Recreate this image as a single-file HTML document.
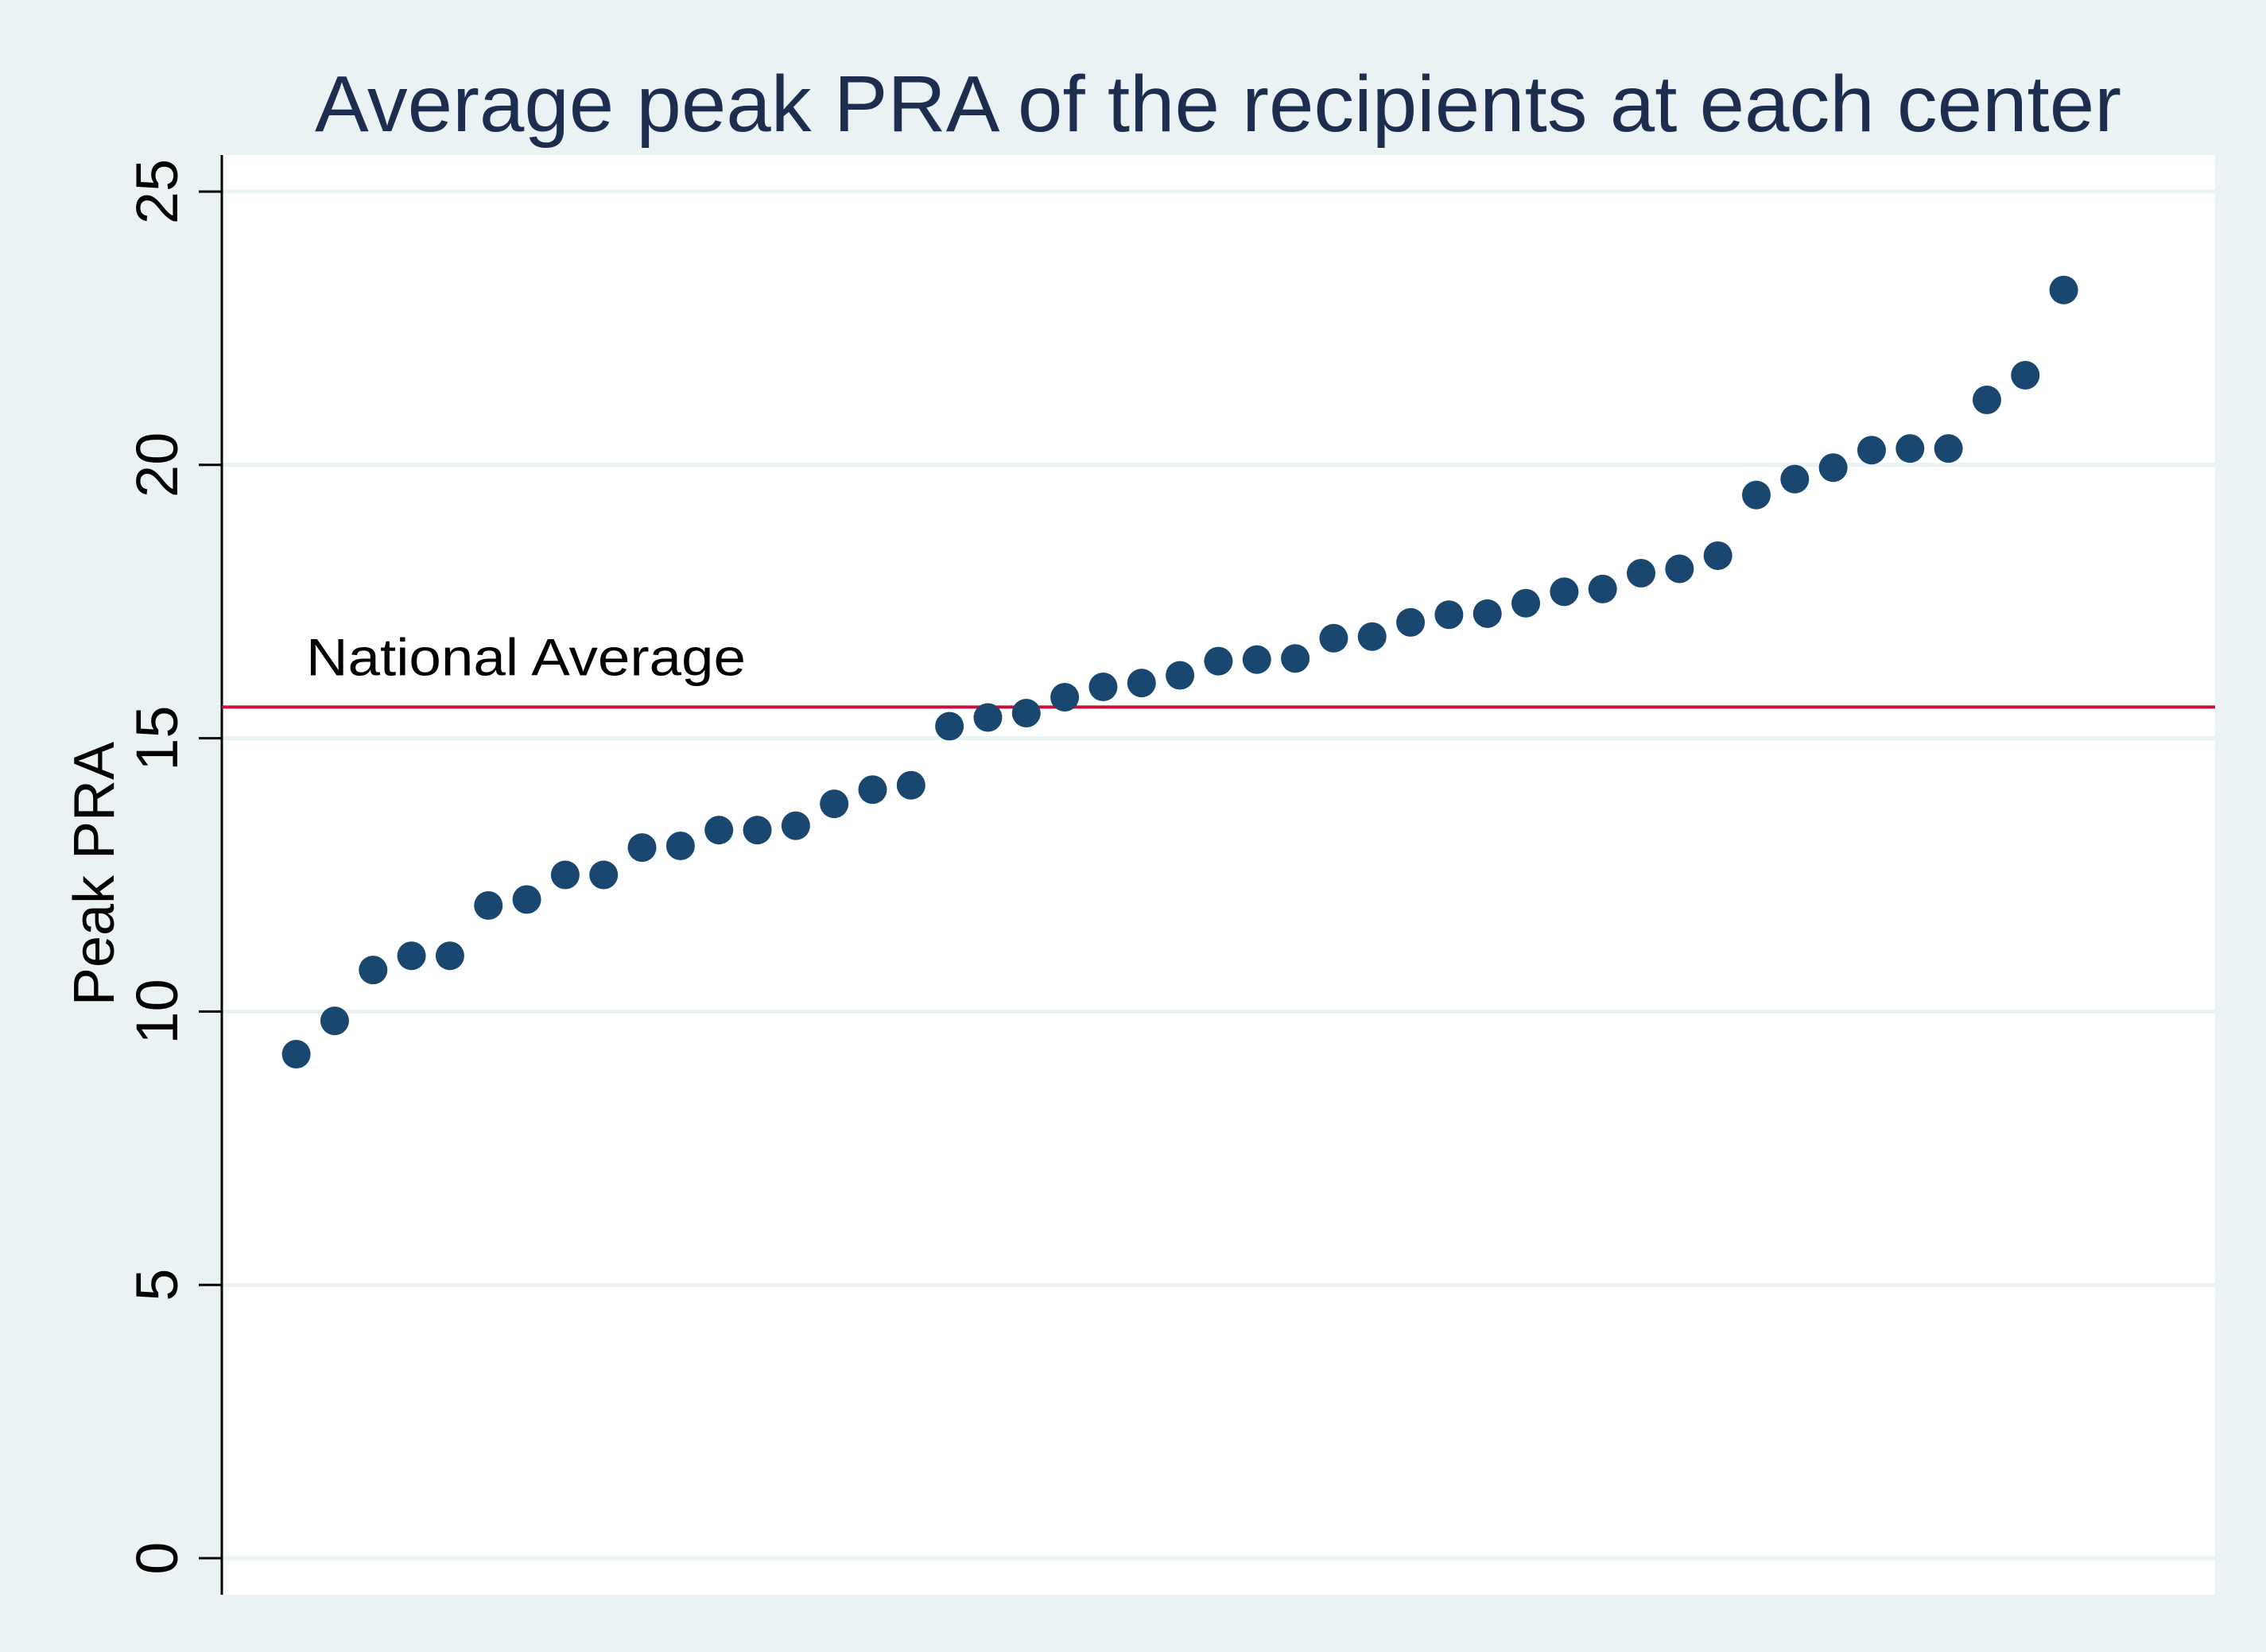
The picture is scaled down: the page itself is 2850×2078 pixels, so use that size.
<!DOCTYPE html>
<html><head><meta charset="utf-8"><style>
html,body{margin:0;padding:0;background:#eaf2f3;}
svg{display:block;font-family:"Liberation Sans",Arial,sans-serif;}
</style></head><body>
<svg id="chart" width="2850" height="2078" viewBox="0 0 2850 2078" xmlns="http://www.w3.org/2000/svg">
<rect x="0" y="0" width="2850" height="2078" fill="#eaf2f3"/>
<rect x="279" y="195" width="2507" height="1811" fill="#ffffff"/>
<text x="396" y="165" font-size="100" fill="#1c2d4f" textLength="2272" lengthAdjust="spacingAndGlyphs">Average peak PRA of the recipients at each center</text>
<g id="grid"></g>
<g id="yticks"></g>
<line x1="279" y1="195" x2="279" y2="2006" stroke="#000" stroke-width="3"/>
<text transform="translate(143,1099) rotate(-90)" text-anchor="middle" font-size="72" fill="#000">Peak PRA</text>
<g id="refline"></g>
<g id="points"></g>
</svg>
<script>
const centers = [1,2,3,4,5,6,7,8,9,10,11,12,13,14,15,16,17,18,19,20,21,22,23,24,25,26,27,28,29,30,31,32,33,34,35,36,37,38,39,40,41,42,43,44,45,46,47];
const peakPRA = [9.22,9.83,10.76,11.02,11.02,11.94,12.05,12.5,12.5,13.0,13.03,13.32,13.32,13.4,13.8,14.06,14.14,15.22,15.38,15.46,15.75,15.94,16.01,16.15,16.41,16.44,16.46,16.83,16.86,17.12,17.26,17.28,17.47,17.68,17.73,18.02,18.1,18.34,19.45,19.74,19.95,20.27,20.3,20.3,21.19,21.64,23.2];
const yTicks = [0,5,10,15,20,25];
const nationalAverage = [15.57];

const NS = "http://www.w3.org/2000/svg";
function yS(v){ return 1960 - v*(1960-241)/25; }
function xS(i){ return 372.6 + (i-1)*(2595.6-372.6)/46; }

const grid = document.getElementById('grid');
const yt = document.getElementById('yticks');
yTicks.forEach(t=>{
  const y = yS(t);
  const g = document.createElementNS(NS,'line');
  
  
  g.setAttribute('x1',279); g.setAttribute('x2',2786);
  g.setAttribute('y1',y); g.setAttribute('y2',y);
  g.setAttribute('stroke','#eaf2f3'); g.setAttribute('stroke-width',5);
  grid.appendChild(g);
  const tk = document.createElementNS(NS,'line');
  
  
  tk.setAttribute('x1',250); tk.setAttribute('x2',279);
  tk.setAttribute('y1',y); tk.setAttribute('y2',y);
  tk.setAttribute('stroke','#000'); tk.setAttribute('stroke-width',3);
  yt.appendChild(tk);
  const lb = document.createElementNS(NS,'text');
  
  
  lb.setAttribute('transform','translate(223,'+y+') rotate(-90)');
  lb.setAttribute('text-anchor','middle');
  lb.setAttribute('font-size','74');
  lb.textContent = String(t);
  yt.appendChild(lb);
});

const rl = document.getElementById('refline');
const ry = yS(nationalAverage[0]);
const l = document.createElementNS(NS,'line');


l.setAttribute('x1',279); l.setAttribute('x2',2786);
l.setAttribute('y1',ry); l.setAttribute('y2',ry);
l.setAttribute('stroke','#c8103c'); l.setAttribute('stroke-width',4);
rl.appendChild(l);
const lt = document.createElementNS(NS,'text');


lt.setAttribute('x',385); lt.setAttribute('y',ry-40);
lt.setAttribute('font-size','66');
lt.setAttribute('textLength','553');
lt.setAttribute('lengthAdjust','spacingAndGlyphs');
lt.textContent = 'National Average';
rl.appendChild(lt);

const pts = document.getElementById('points');
centers.forEach((c,i)=>{
  const p = document.createElementNS(NS,'circle');
  
  
  p.setAttribute('cx',xS(c)); p.setAttribute('cy',yS(peakPRA[i]));
  p.setAttribute('r',18); p.setAttribute('fill','#1a476f');
  pts.appendChild(p);
});
</script>
</body></html>
